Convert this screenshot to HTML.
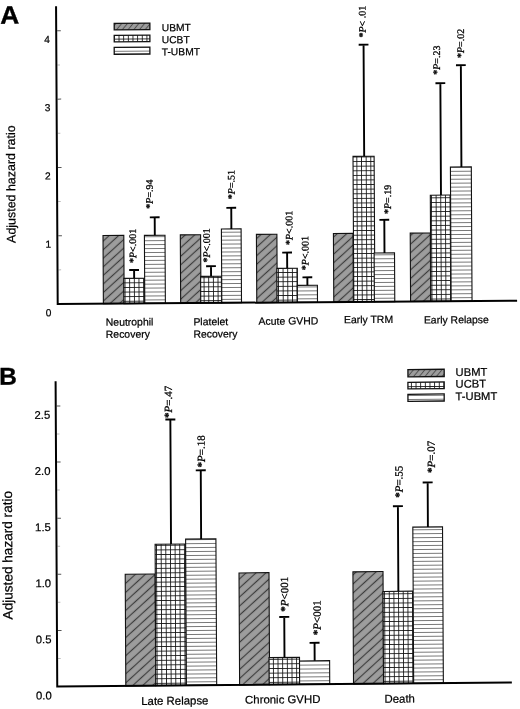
<!DOCTYPE html><html><head><meta charset="utf-8"><style>html,body{margin:0;padding:0;background:#fff;width:520px;height:709px;overflow:hidden}svg{display:block;will-change:transform}</style></head><body>
<svg width="520" height="709" viewBox="0 0 520 709">
<rect width="520" height="709" fill="#fff"/>
<defs>
<pattern id="diagA" patternUnits="userSpaceOnUse" width="20" height="6.35" patternTransform="rotate(-42)"><rect width="20" height="6.35" fill="#9d9d9d"/><path d="M0,3.17 H20" stroke="#3c3c3c" stroke-width="1.2"/></pattern>
<pattern id="diagB" patternUnits="userSpaceOnUse" width="20" height="6.7" patternTransform="rotate(-42)"><rect width="20" height="6.7" fill="#9d9d9d"/><path d="M0,3.35 H20" stroke="#3c3c3c" stroke-width="1.2"/></pattern>
<pattern id="diagL" patternUnits="userSpaceOnUse" width="20" height="4.4" patternTransform="rotate(-50)"><rect width="20" height="4.4" fill="#9d9d9d"/><path d="M0,2.2 H20" stroke="#505050" stroke-width="1"/></pattern>
<pattern id="grid" patternUnits="userSpaceOnUse" width="4.65" height="4.6"><rect width="4.65" height="4.6" fill="#fff"/><path d="M2.325,0 V4.6 M0,2.3 H4.65" stroke="#111" stroke-width="0.85"/></pattern>
<pattern id="hl" patternUnits="userSpaceOnUse" width="10" height="3.95"><rect width="10" height="3.95" fill="#fff"/><path d="M0,0.5 H10" stroke="#707070" stroke-width="0.9"/></pattern>
</defs>
<g transform="matrix(1,-0.0072,0.0055,1,57.7,304.05)">
<text transform="translate(-55.81,-280.76) scale(1.045,1)" font-family='"Liberation Sans", sans-serif' font-size="25.2" font-weight="bold" fill="#000" stroke="#000" stroke-width="0.35">A</text>
<text transform="translate(-41.86,-61.45) rotate(-90)" font-family='"Liberation Sans", sans-serif' font-size="12.45" fill="#000" stroke="#000" stroke-width="0.22">Adjusted hazard ratio</text>
<path d="M1,-34.15 H3.6" stroke="#bbb" stroke-width="1"/>
<path d="M1,-68.3 H4.6" stroke="#555" stroke-width="1"/>
<path d="M1,-102.45 H3.6" stroke="#bbb" stroke-width="1"/>
<path d="M1,-136.6 H4.6" stroke="#555" stroke-width="1"/>
<path d="M1,-170.75 H3.6" stroke="#bbb" stroke-width="1"/>
<path d="M1,-204.9 H4.6" stroke="#555" stroke-width="1"/>
<path d="M1,-239.05 H3.6" stroke="#bbb" stroke-width="1"/>
<path d="M1,-273.2 H4.6" stroke="#555" stroke-width="1"/>
<text x="-6.3" y="12" font-family='"Liberation Sans", sans-serif' font-size="10.2" text-anchor="end" fill="#000" stroke="#000" stroke-width="0.22">0</text>
<text x="-6.3" y="-56.3" font-family='"Liberation Sans", sans-serif' font-size="10.2" text-anchor="end" fill="#000" stroke="#000" stroke-width="0.22">1</text>
<text x="-6.3" y="-124.6" font-family='"Liberation Sans", sans-serif' font-size="10.2" text-anchor="end" fill="#000" stroke="#000" stroke-width="0.22">2</text>
<text x="-6.3" y="-192.9" font-family='"Liberation Sans", sans-serif' font-size="10.2" text-anchor="end" fill="#000" stroke="#000" stroke-width="0.22">3</text>
<text x="-6.3" y="-261.2" font-family='"Liberation Sans", sans-serif' font-size="10.2" text-anchor="end" fill="#000" stroke="#000" stroke-width="0.22">4</text>
<rect x="45.68" y="-68.15" width="20.8" height="68.15" fill="url(#diagA)" stroke="#111" stroke-width="1.1"/>
<rect x="66.24" y="-25.2" width="20.6" height="25.2" fill="url(#grid)" stroke="#111" stroke-width="1.1"/>
<rect x="87.08" y="-68.05" width="20.6" height="68.05" fill="url(#hl)" stroke="#111" stroke-width="1.1"/>
<path d="M76.59,-25.2 V-33.5 M71.69,-33.5 H81.49" stroke="#000" stroke-width="1.9" fill="none"/>
<path d="M97.48,-68.05 V-86.05 M92.58,-86.05 H102.38" stroke="#000" stroke-width="1.9" fill="none"/>
<text transform="translate(78.73,-40.38) rotate(-90)" font-family='"Liberation Serif", serif' font-size="10" fill="#000" stroke="#000" stroke-width="0.3"><tspan font-weight="bold">*</tspan><tspan font-style="italic">P</tspan>&lt;.001</text>
<text transform="translate(95.62,-94.67) rotate(-90)" font-family='"Liberation Serif", serif' font-size="10" fill="#000" stroke="#000" stroke-width="0.3"><tspan font-weight="bold">*</tspan><tspan font-style="italic">P</tspan>=.94</text>
<rect x="122.98" y="-68.29" width="20.3" height="68.29" fill="url(#diagA)" stroke="#111" stroke-width="1.1"/>
<rect x="143.05" y="-26.65" width="20.8" height="26.65" fill="url(#grid)" stroke="#111" stroke-width="1.1"/>
<rect x="164.11" y="-73.9" width="19.7" height="73.9" fill="url(#hl)" stroke="#111" stroke-width="1.1"/>
<path d="M153.51,-26.65 V-36.75 M148.61,-36.75 H158.41" stroke="#000" stroke-width="1.9" fill="none"/>
<path d="M174.08,-73.9 V-95 M169.18,-95 H178.98" stroke="#000" stroke-width="1.9" fill="none"/>
<text transform="translate(152.53,-40.45) rotate(-90)" font-family='"Liberation Serif", serif' font-size="10" fill="#000" stroke="#000" stroke-width="0.3"><tspan font-weight="bold">*</tspan><tspan font-style="italic">P</tspan>&lt;.001</text>
<text transform="translate(177.58,-103.58) rotate(-90)" font-family='"Liberation Serif", serif' font-size="10" fill="#000" stroke="#000" stroke-width="0.3"><tspan font-weight="bold">*</tspan><tspan font-style="italic">P</tspan>=.51</text>
<rect x="199.08" y="-68.25" width="20.5" height="68.25" fill="url(#diagA)" stroke="#111" stroke-width="1.1"/>
<rect x="219.4" y="-34.1" width="20.4" height="34.1" fill="url(#grid)" stroke="#111" stroke-width="1.1"/>
<rect x="239.7" y="-16.95" width="20.1" height="16.95" fill="url(#hl)" stroke="#111" stroke-width="1.1"/>
<path d="M229.68,-34.1 V-49.8 M224.78,-49.8 H234.58" stroke="#000" stroke-width="1.9" fill="none"/>
<path d="M249.8,-16.95 V-24.95 M244.9,-24.95 H254.7" stroke="#000" stroke-width="1.9" fill="none"/>
<text transform="translate(235.12,-57.26) rotate(-90)" font-family='"Liberation Serif", serif' font-size="10" fill="#000" stroke="#000" stroke-width="0.3"><tspan font-weight="bold">*</tspan><tspan font-style="italic">P</tspan>&lt;.001</text>
<text transform="translate(250.99,-32.04) rotate(-90)" font-family='"Liberation Serif", serif' font-size="10" fill="#000" stroke="#000" stroke-width="0.3"><tspan font-weight="bold">*</tspan><tspan font-style="italic">P</tspan>&lt;.001</text>
<rect x="276.09" y="-68.59" width="19.6" height="68.59" fill="url(#diagA)" stroke="#111" stroke-width="1.1"/>
<rect x="296.11" y="-145.55" width="21.1" height="145.55" fill="url(#grid)" stroke="#111" stroke-width="1.1"/>
<rect x="316.68" y="-48.7" width="20.4" height="48.7" fill="url(#hl)" stroke="#111" stroke-width="1.1"/>
<path d="M307.28,-145.55 V-257.15 M302.38,-257.15 H312.18" stroke="#000" stroke-width="1.9" fill="none"/>
<path d="M327.06,-48.7 V-81.9 M322.16,-81.9 H331.96" stroke="#000" stroke-width="1.9" fill="none"/>
<text transform="translate(309.47,-264.23) rotate(-90)" font-family='"Liberation Serif", serif' font-size="10" fill="#000" stroke="#000" stroke-width="0.3"><tspan font-weight="bold">*</tspan><tspan font-style="italic">P</tspan>&lt; .01</text>
<text transform="translate(333.9,-87.65) rotate(-90)" font-family='"Liberation Serif", serif' font-size="10" fill="#000" stroke="#000" stroke-width="0.3"><tspan font-weight="bold">*</tspan><tspan font-style="italic">P</tspan>=.19</text>
<rect x="352.89" y="-68.34" width="20.1" height="68.34" fill="url(#diagA)" stroke="#111" stroke-width="1.1"/>
<rect x="373.2" y="-106.19" width="20.1" height="106.19" fill="url(#grid)" stroke="#111" stroke-width="1.1"/>
<rect x="393.45" y="-134.15" width="20.9" height="134.15" fill="url(#hl)" stroke="#111" stroke-width="1.1"/>
<path d="M383.86,-106.19 V-218.09 M378.96,-218.09 H388.76" stroke="#000" stroke-width="1.9" fill="none"/>
<path d="M404.46,-134.15 V-235.95 M399.56,-235.95 H409.36" stroke="#000" stroke-width="1.9" fill="none"/>
<text transform="translate(383.66,-226.5) rotate(-90)" font-family='"Liberation Serif", serif' font-size="10" fill="#000" stroke="#000" stroke-width="0.3"><tspan font-weight="bold">*</tspan><tspan font-style="italic">P</tspan>=.23</text>
<text transform="translate(407.65,-243.02) rotate(-90)" font-family='"Liberation Serif", serif' font-size="10" fill="#000" stroke="#000" stroke-width="0.3"><tspan font-weight="bold">*</tspan><tspan font-style="italic">P</tspan>=.02</text>
<path d="M0,-297.9 V0 H459.4" stroke="#000" stroke-width="2" fill="none" stroke-linejoin="miter"/>
<text x="47.98" y="22.1" font-family='"Liberation Sans", sans-serif' font-size="10.45" text-anchor="start" font-weight="normal" fill="#000" stroke="#000" stroke-width="0.22">Neutrophil</text>
<text x="47.91" y="34.2" font-family='"Liberation Sans", sans-serif' font-size="10.45" text-anchor="start" font-weight="normal" fill="#000" stroke="#000" stroke-width="0.22">Recovery</text>
<text x="135.58" y="22.33" font-family='"Liberation Sans", sans-serif' font-size="10.45" text-anchor="start" font-weight="normal" fill="#000" stroke="#000" stroke-width="0.22">Platelet</text>
<text x="135.51" y="34.63" font-family='"Liberation Sans", sans-serif' font-size="10.45" text-anchor="start" font-weight="normal" fill="#000" stroke="#000" stroke-width="0.22">Recovery</text>
<text x="200.79" y="22.2" font-family='"Liberation Sans", sans-serif' font-size="10.45" text-anchor="start" font-weight="normal" fill="#000" stroke="#000" stroke-width="0.22">Acute GVHD</text>
<text x="286.19" y="21.31" font-family='"Liberation Sans", sans-serif' font-size="10.45" text-anchor="start" font-weight="normal" fill="#000" stroke="#000" stroke-width="0.22">Early TRM</text>
<text x="366.09" y="22.19" font-family='"Liberation Sans", sans-serif' font-size="10.45" text-anchor="start" font-weight="normal" fill="#000" stroke="#000" stroke-width="0.22">Early Relapse</text>
<rect x="58.04" y="-280.34" width="35.66" height="6.66" fill="url(#diagL)" stroke="#111" stroke-width="1.3"/>
<rect x="57.98" y="-268.34" width="35.67" height="6.56" fill="url(#grid)" stroke="#111" stroke-width="1.3"/>
<rect x="57.91" y="-256.34" width="35.66" height="6.96" fill="url(#hl)" stroke="#111" stroke-width="1.3"/>
<text x="105.5" y="-272.1" font-family='"Liberation Sans", sans-serif' font-size="10.3" text-anchor="start" font-weight="normal" fill="#000" stroke="#000" stroke-width="0.22">UBMT</text>
<text x="105.43" y="-260" font-family='"Liberation Sans", sans-serif' font-size="10.3" text-anchor="start" font-weight="normal" fill="#000" stroke="#000" stroke-width="0.22">UCBT</text>
<text x="105.37" y="-247.9" font-family='"Liberation Sans", sans-serif' font-size="10.3" text-anchor="start" font-weight="normal" fill="#000" stroke="#000" stroke-width="0.22">T-UBMT</text>
</g>
<g transform="matrix(1,-0.0089,0.0054,1,57.25,686.55)">
<text x="-56.42" y="-302.27" font-family='"Liberation Sans", sans-serif' font-size="24.4" text-anchor="start" font-weight="bold" fill="#000" stroke="#000" stroke-width="0.35">B</text>
<text transform="translate(-44.29,-67.55) rotate(-90)" font-family='"Liberation Sans", sans-serif' font-size="13.6" fill="#000" stroke="#000" stroke-width="0.22">Adjusted hazard ratio</text>
<path d="M1,-28.06 H3.6" stroke="#bbb" stroke-width="1"/>
<path d="M1,-56.12 H4.6" stroke="#555" stroke-width="1"/>
<path d="M1,-84.19 H3.6" stroke="#bbb" stroke-width="1"/>
<path d="M1,-112.25 H4.6" stroke="#555" stroke-width="1"/>
<path d="M1,-140.31 H3.6" stroke="#bbb" stroke-width="1"/>
<path d="M1,-168.38 H4.6" stroke="#555" stroke-width="1"/>
<path d="M1,-196.44 H3.6" stroke="#bbb" stroke-width="1"/>
<path d="M1,-224.5 H4.6" stroke="#555" stroke-width="1"/>
<path d="M1,-252.56 H3.6" stroke="#bbb" stroke-width="1"/>
<path d="M1,-280.62 H4.6" stroke="#555" stroke-width="1"/>
<text x="-5.6" y="12.8" font-family='"Liberation Sans", sans-serif' font-size="11.3" text-anchor="end" fill="#000" stroke="#000" stroke-width="0.22">0.0</text>
<text x="-5.6" y="-43.33" font-family='"Liberation Sans", sans-serif' font-size="11.3" text-anchor="end" fill="#000" stroke="#000" stroke-width="0.22">0.5</text>
<text x="-5.6" y="-99.45" font-family='"Liberation Sans", sans-serif' font-size="11.3" text-anchor="end" fill="#000" stroke="#000" stroke-width="0.22">1.0</text>
<text x="-5.6" y="-155.57" font-family='"Liberation Sans", sans-serif' font-size="11.3" text-anchor="end" fill="#000" stroke="#000" stroke-width="0.22">1.5</text>
<text x="-5.6" y="-211.7" font-family='"Liberation Sans", sans-serif' font-size="11.3" text-anchor="end" fill="#000" stroke="#000" stroke-width="0.22">2.0</text>
<text x="-5.6" y="-267.82" font-family='"Liberation Sans", sans-serif' font-size="11.3" text-anchor="end" fill="#000" stroke="#000" stroke-width="0.22">2.5</text>
<rect x="68.56" y="-111.71" width="29.9" height="111.71" fill="url(#diagB)" stroke="#111" stroke-width="1.1"/>
<rect x="98.62" y="-141.44" width="30.5" height="141.44" fill="url(#grid)" stroke="#111" stroke-width="1.1"/>
<rect x="129.15" y="-146.27" width="30.3" height="146.27" fill="url(#hl)" stroke="#111" stroke-width="1.1"/>
<path d="M114.54,-141.44 V-266.04 M109.54,-266.04 H119.54" stroke="#000" stroke-width="1.9" fill="none"/>
<path d="M144.67,-146.27 V-214.97 M139.67,-214.97 H149.67" stroke="#000" stroke-width="1.9" fill="none"/>
<text transform="translate(116.24,-267.47) rotate(-90)" font-family='"Liberation Serif", serif' font-size="11" fill="#000" stroke="#000" stroke-width="0.3"><tspan font-weight="bold">*</tspan><tspan font-style="italic">P</tspan>=.47</text>
<text transform="translate(148.87,-217.78) rotate(-90)" font-family='"Liberation Serif", serif' font-size="11" fill="#000" stroke="#000" stroke-width="0.3"><tspan font-weight="bold">*</tspan><tspan font-style="italic">P</tspan>=.18</text>
<rect x="182.36" y="-112" width="30" height="112" fill="url(#diagB)" stroke="#111" stroke-width="1.1"/>
<rect x="211.91" y="-27.03" width="30.5" height="27.03" fill="url(#grid)" stroke="#111" stroke-width="1.1"/>
<rect x="242.39" y="-23.46" width="30.1" height="23.46" fill="url(#hl)" stroke="#111" stroke-width="1.1"/>
<path d="M227.38,-27.03 V-67.63 M222.38,-67.63 H232.38" stroke="#000" stroke-width="1.9" fill="none"/>
<path d="M257.54,-23.46 V-41.46 M252.54,-41.46 H262.54" stroke="#000" stroke-width="1.9" fill="none"/>
<text transform="translate(231.39,-72.83) rotate(-90)" font-family='"Liberation Serif", serif' font-size="11" fill="#000" stroke="#000" stroke-width="0.3"><tspan font-weight="bold">*</tspan><tspan font-style="italic">P</tspan>&lt;001</text>
<text transform="translate(263.77,-48.94) rotate(-90)" font-family='"Liberation Serif", serif' font-size="11" fill="#000" stroke="#000" stroke-width="0.3"><tspan font-weight="bold">*</tspan><tspan font-style="italic">P</tspan>&lt;001</text>
<rect x="296.27" y="-112.08" width="30.1" height="112.08" fill="url(#diagB)" stroke="#111" stroke-width="1.1"/>
<rect x="326.26" y="-92.22" width="29.8" height="92.22" fill="url(#grid)" stroke="#111" stroke-width="1.1"/>
<rect x="356.41" y="-156.25" width="29.7" height="156.25" fill="url(#hl)" stroke="#111" stroke-width="1.1"/>
<path d="M341.62,-92.22 V-177.32 M336.62,-177.32 H346.62" stroke="#000" stroke-width="1.9" fill="none"/>
<path d="M371.5,-156.25 V-200.85 M366.5,-200.85 H376.5" stroke="#000" stroke-width="1.9" fill="none"/>
<text transform="translate(346.41,-185.62) rotate(-90)" font-family='"Liberation Serif", serif' font-size="11" fill="#000" stroke="#000" stroke-width="0.3"><tspan font-weight="bold">*</tspan><tspan font-style="italic">P</tspan>=.55</text>
<text transform="translate(378.84,-210.23) rotate(-90)" font-family='"Liberation Serif", serif' font-size="11" fill="#000" stroke="#000" stroke-width="0.3"><tspan font-weight="bold">*</tspan><tspan font-style="italic">P</tspan>=.07</text>
<path d="M0,-305.35 V0 H454.6" stroke="#000" stroke-width="2" fill="none"/>
<text x="83.95" y="19.2" font-family='"Liberation Sans", sans-serif' font-size="11.4" text-anchor="start" font-weight="normal" fill="#000" stroke="#000" stroke-width="0.22">Late Relapse</text>
<text x="187.76" y="18.82" font-family='"Liberation Sans", sans-serif' font-size="11.4" text-anchor="start" font-weight="normal" fill="#000" stroke="#000" stroke-width="0.22">Chronic GVHD</text>
<text x="327.16" y="19.16" font-family='"Liberation Sans", sans-serif' font-size="11.4" text-anchor="start" font-weight="normal" fill="#000" stroke="#000" stroke-width="0.22">Death</text>
<rect x="352.36" y="-313.83" width="36.26" height="7.22" fill="url(#diagL)" stroke="#111" stroke-width="1.3"/>
<rect x="352.29" y="-301.13" width="36.27" height="6.62" fill="url(#grid)" stroke="#111" stroke-width="1.3"/>
<rect x="352.23" y="-289.13" width="36.26" height="7.02" fill="url(#hl)" stroke="#111" stroke-width="1.3"/>
<text x="400.03" y="-307" font-family='"Liberation Sans", sans-serif' font-size="11.2" text-anchor="start" font-weight="normal" fill="#000" stroke="#000" stroke-width="0.22">UBMT</text>
<text x="399.96" y="-295.3" font-family='"Liberation Sans", sans-serif' font-size="11.2" text-anchor="start" font-weight="normal" fill="#000" stroke="#000" stroke-width="0.22">UCBT</text>
<text x="399.9" y="-282.8" font-family='"Liberation Sans", sans-serif' font-size="11.2" text-anchor="start" font-weight="normal" fill="#000" stroke="#000" stroke-width="0.22">T-UBMT</text>
</g>
</svg></body></html>
